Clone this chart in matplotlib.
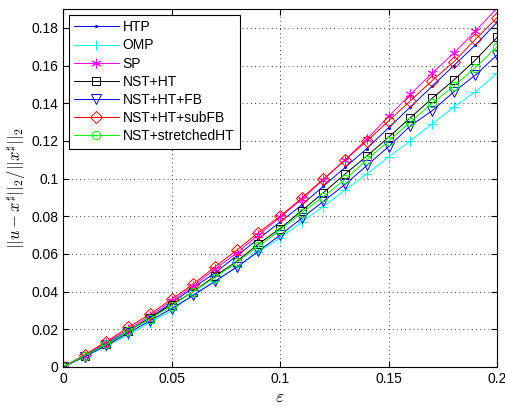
import matplotlib.pyplot as plt

plt.rcParams['font.family'] = ['Liberation Sans', 'DejaVu Sans']
plt.rcParams['mathtext.fontset'] = 'cm'

eps = [0, 0.01, 0.02, 0.03, 0.04, 0.05, 0.06, 0.07, 0.08, 0.09, 0.10,
       0.11, 0.12, 0.13, 0.14, 0.15, 0.16, 0.17, 0.18, 0.19, 0.20]

htp = [0, 0.006, 0.0125, 0.019, 0.026, 0.034, 0.042, 0.050, 0.059, 0.068, 0.077,
       0.086, 0.096, 0.106, 0.116, 0.127, 0.138, 0.149, 0.160, 0.171, 0.183]
omp = [0, 0.0055, 0.011, 0.017, 0.0235, 0.030, 0.0385, 0.0455, 0.053, 0.061, 0.0685,
       0.077, 0.0852, 0.094, 0.1025, 0.1115, 0.120, 0.129, 0.138, 0.146, 0.156]
sp = [0, 0.006, 0.013, 0.020, 0.027, 0.035, 0.043, 0.052, 0.0605, 0.070, 0.0795,
      0.089, 0.0995, 0.110, 0.121, 0.133, 0.1447, 0.156, 0.1666, 0.1784, 0.1905]
nst_ht = [0, 0.006, 0.012, 0.019, 0.026, 0.033, 0.040, 0.0483, 0.056, 0.0653, 0.0735,
          0.083, 0.0926, 0.1025, 0.112, 0.122, 0.1323, 0.1426, 0.1523, 0.163, 0.175]
nst_fb = [0, 0.0055, 0.0115, 0.018, 0.0245, 0.031, 0.038, 0.0455, 0.053, 0.0615, 0.070,
          0.079, 0.088, 0.097, 0.107, 0.117, 0.128, 0.136, 0.146, 0.155, 0.1657]
nst_subfb = [0, 0.0065, 0.0135, 0.021, 0.028, 0.036, 0.044, 0.0532, 0.062, 0.0713, 0.080,
             0.0897, 0.0998, 0.110, 0.120, 0.1306, 0.1413, 0.152, 0.162, 0.174, 0.1855]
nst_stretch = [0, 0.006, 0.012, 0.019, 0.0255, 0.0325, 0.040, 0.0475, 0.0555, 0.064, 0.0727,
               0.0818, 0.0905, 0.0996, 0.110, 0.120, 0.130, 0.140, 0.149, 0.159, 0.170]

fig = plt.figure(figsize=(5.06, 4.09), dpi=100)
ax = fig.add_axes([0.1245, 0.1027, 0.858, 0.875])

mk = dict(lw=0.7, mew=0.7)
ax.plot(eps, htp, color=(0, 0, 1), marker='.', ms=3, label='HTP', **mk)
ax.plot(eps, omp, color=(0, 1, 1), marker='+', ms=7, label='OMP', **mk)
ax.plot(eps, sp, color=(1, 0, 1), marker=(6, 2, 0), ms=7, label='SP', **mk)
ax.plot(eps, nst_ht, color='k', marker='s', ms=6, mfc='none', label='NST+HT', **mk)
ax.plot(eps, nst_fb, color=(0, 0, 1), marker='v', ms=7, mfc='none', label='NST+HT+FB', **mk)
ax.plot(eps, nst_subfb, color=(1, 0, 0), marker='D', ms=6, mfc='none', label='NST+HT+subFB', **mk)
ax.plot(eps, nst_stretch, color=(0, 1, 0), marker='o', ms=6, mfc='none',
        label='NST+stretchedHT', **mk)

ax.set_xlim(0, 0.2)
ax.set_ylim(0, 0.19)
ax.set_xticks([0, 0.05, 0.1, 0.15, 0.2])
ax.set_xticklabels(['0', '0.05', '0.1', '0.15', '0.2'])
ax.set_yticks([0, 0.02, 0.04, 0.06, 0.08, 0.1, 0.12, 0.14, 0.16, 0.18])
ax.set_yticklabels(['0', '0.02', '0.04', '0.06', '0.08', '0.1', '0.12', '0.14', '0.16', '0.18'])
ax.tick_params(direction='in', top=True, right=True, labelsize=10, length=4)
ax.grid(True, linestyle=(0, (1, 4)), color='k', lw=0.6)
for s in ax.spines.values():
    s.set_linewidth(0.8)

ax.set_xlabel(r'$\varepsilon$', fontsize=13, labelpad=2)
ax.set_ylabel(r'$||u-x^\sharp||_2/||x^\sharp||_2$', fontsize=12, labelpad=2)

leg = ax.legend(loc='upper left', fontsize=10, handlelength=3.2, handletextpad=0.3,
                borderaxespad=0.4, labelspacing=0.3, fancybox=False, framealpha=1)
leg.get_frame().set_edgecolor('k')
leg.get_frame().set_linewidth(0.8)

fig.savefig('out.png', dpi=100)
